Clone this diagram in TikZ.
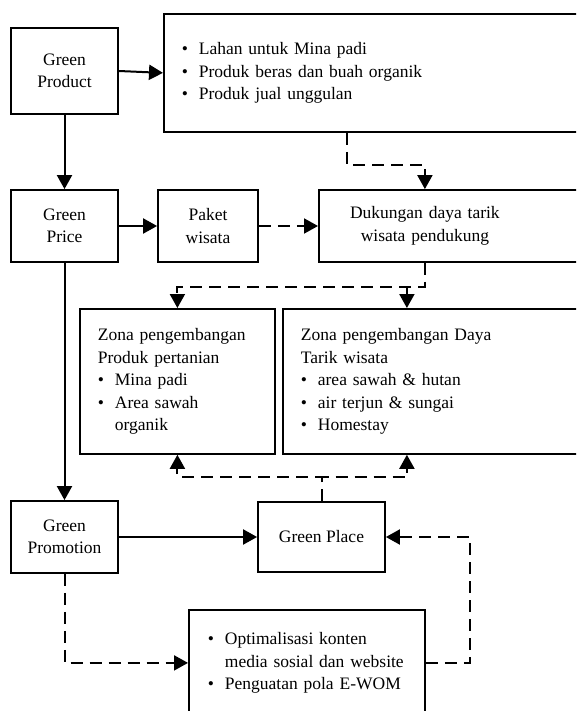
\documentclass[tikz,border=0pt]{standalone}
\usepackage{fontspec}
\setmainfont{Liberation Serif}
\usetikzlibrary{arrows.meta,positioning}
\newcommand{\bul}{\makebox[17pt][l]{\textbullet}}
\newcommand{\hang}{\hspace*{17pt}}

\begin{document}
\begin{tikzpicture}[
  x=1pt, y=-1pt,
  every node/.style={font=\fontsize{17.5}{22.5}\selectfont},
  mix/.style={draw,line width=1.8pt,align=center,inner sep=2pt},
  listbox/.style={draw,line width=1.8pt,anchor=north west,align=left,inner ysep=0pt},
  arr/.style={-{Triangle[length=14pt,width=15pt]},line width=2pt},
  darr/.style={arr,dash pattern=on 12pt off 7pt},
]
  \clip (0,0) rectangle (576,711);

  % Green mix
  \node[mix,minimum width=107pt,minimum height=86pt] (prod)  at (64.5,71)  {Green\\Product};
  \node[mix,minimum width=107pt,minimum height=72pt] (price) at (64.5,226) {Green\\Price};
  \node[mix,minimum width=107pt,minimum height=72pt] (promo) at (64.5,537) {Green\\Promotion};
  \node[mix,minimum width=127pt,minimum height=70pt] (place) at (321.5,537) {Green Place};
  \node[mix,minimum width=100pt,minimum height=72pt] (paket) at (208,226) {Paket\\wisata};
  \node[draw,line width=1.8pt,anchor=west,inner sep=0pt,minimum width=272pt,minimum height=72pt,
        text width=272pt,align=left] (dk) at (318,226)
        {\parbox{212pt}{\centering Dukungan daya tarik\\wisata pendukung}};

  % Detail boxes
  \node[listbox,minimum width=427pt,minimum height=118pt,inner xsep=18pt,text width=391pt] (prodlist) at (163,13)
        {\bul Lahan untuk Mina padi\\\bul Produk beras dan buah organik\\\bul Produk jual unggulan};
  \node[listbox,minimum width=195pt,minimum height=145pt,inner xsep=18pt,text width=159pt] (zprod) at (79,308)
        {Zona pengembangan\\Produk pertanian\\\bul Mina padi\\\bul Area sawah\\\hang organik};
  \node[listbox,minimum width=308pt,minimum height=145pt,inner xsep=18pt,text width=272pt] (zwis) at (282,308)
        {Zona pengembangan Daya\\Tarik wisata\\\bul area sawah \& hutan\\\bul air terjun \& sungai\\\bul Homestay};
  \node[listbox,minimum width=236pt,minimum height=106pt,inner xsep=19pt,text width=198pt] (promolist) at (188,609)
        {\bul Optimalisasi konten\\\hang media sosial dan website\\\bul Penguatan pola E-WOM};

  % Solid arrows
  \draw[arr] (prod.east) -- (prodlist.west);
  \draw[arr] (prod) -- (price);
  \draw[arr] (price) -- (paket);
  \draw[arr] (price) -- (promo);
  \draw[arr] (promo.east) -- (place.west);

  % Dashed arrows
  \draw[darr] (paket) -- (dk.west);
  \draw[darr] ([xshift=-30pt]prodlist.south) -- ++(0,32) -| ([xshift=-30pt]dk.north);
  \draw[darr] ([xshift=-30pt]dk.south) -- ++(0,24) -| (zprod.north);
  \draw[darr] ([xshift=-30pt]dk.south) -- ++(0,24) -| ([xshift=-30pt]zwis.north);
  \draw[darr] (place.north) -- ++(0,-24) -| (zprod.south);
  \draw[darr] (place.north) -- ++(0,-24) -| ([xshift=-30pt]zwis.south);
  \draw[darr] (promo.south) |- (promolist.west);
  \draw[darr] (promolist.east) -- ++(44,0) |- (place.east);
\end{tikzpicture}
\end{document}
